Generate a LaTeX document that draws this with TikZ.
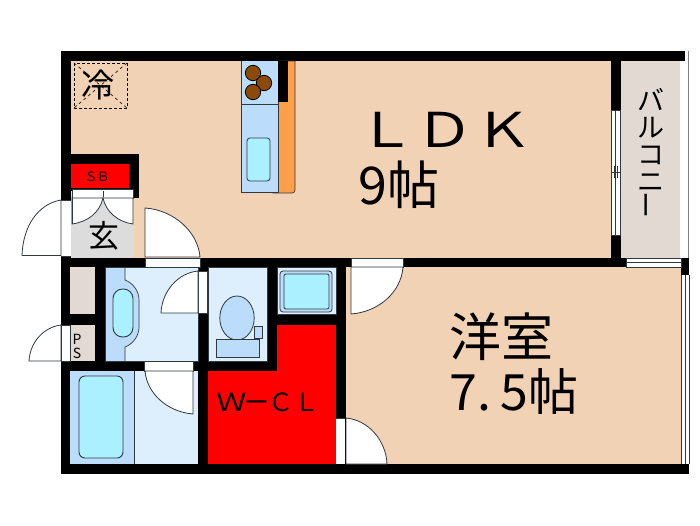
\documentclass[tikz,border=0pt]{standalone}
\usepackage{fontspec}
\usepackage{graphicx}
\newfontfamily\cjk{Noto Sans CJK JP}
\definecolor{peach}{HTML}{F2D2B4}
\definecolor{balc}{HTML}{E2D9D2}
\definecolor{lblue}{HTML}{DDEEFD}
\definecolor{mblue}{HTML}{BBDDFB}
\definecolor{cyanb}{HTML}{AAF0FF}
\definecolor{orangeb}{HTML}{FF9F4A}
\definecolor{brownb}{HTML}{8B4A0A}
\definecolor{genk}{HTML}{DCDCDC}
\definecolor{linec}{HTML}{303840}
\tikzset{
  wall/.style={fill=black,draw=none},
  room/.style={draw=none},
  fix/.style={draw=linec,line width=0.7pt},
  door/.style={fill=white,draw=linec,line width=0.8pt},
  gap/.style={fill=white,draw=none},
  winline/.style={draw=linec,line width=0.6pt},
  lab/.style={inner sep=0pt},
}
\newcommand{\fsz}[2]{\cjk\fontsize{#1}{#2}\selectfont}
\newcommand{\widechar}[1]{\scalebox{1.22}[1]{#1}}
\begin{document}
\begin{tikzpicture}[x=1pt,y=-1pt]
\useasboundingbox (0,0) rectangle (700,525);
\fill[white] (0,0) rectangle (700,525);
% rooms
\fill[peach] (71,61) rectangle (611,258);
\fill[peach] (346,267) rectangle (681,464);
\fill[balc] (621,61) rectangle (680,258);
\fill[genk] (71,198) rectangle (134,258);
\fill[balc] (70,267) rectangle (95,361);
\fill[lblue] (105,267) rectangle (198,361);
\fill[lblue] (208,267) rectangle (267,361);
\fill[lblue] (277,267) rectangle (336,314);
\fill[lblue] (70,371) rectangle (198,464);
\fill[red] (277,325) -- (336,325) -- (336,464) -- (208,464) -- (208,371) -- (277,371) -- cycle;
% walls
\fill[wall] (61,51) rectangle (685,61);
\fill[wall] (61,51) rectangle (71,267);
\fill[wall] (61,258) rectangle (627,267);
\fill[wall] (611,61) rectangle (621,258);
\fill[wall] (61,258) rectangle (70,474);
\fill[wall] (61,464) rectangle (689,474);
\fill[wall] (95,267) rectangle (105,371);
\fill[wall] (61,314) rectangle (105,325);
\fill[wall] (61,361) rectangle (208,371);
\fill[wall] (198,267) rectangle (208,474);
\fill[wall] (267,267) rectangle (277,371);
\fill[wall] (198,361) rectangle (277,371);
\fill[wall] (267,314) rectangle (346,325);
\fill[wall] (336,258) rectangle (346,474);
\fill[wall] (681,258) rectangle (689,275);
\fill[wall] (71,154) rectangle (139,164);
\fill[wall] (129,154) rectangle (139,198);
\fill[wall] (71,188) rectangle (135,191);
% SB
\fill[red] (71,164) rectangle (129,188);
\fill[white] (72,189) rectangle (133,198);
\draw[fix] (72,189) rectangle (133,198);
\draw[fix] (103,191) -- (103,197);
% genkan double door
\fill[door] (72,198) -- (133,198) -- (133,224) .. controls (118,222) and (106,212) .. (103,198) .. controls (100,212) and (88,222) .. (72,224) -- cycle;
\draw[fix] (72,198) -- (72,224);
% outer right
\fill[white] (680,61) rectangle (688,258);
\draw[draw=gray,line width=1.2pt] (688.5,51) -- (688.5,258);
% kitchen
\fill[orangeb,draw=linec,line width=0.7pt] (278,61) -- (295,61) -- (295,190) arc (0:90:3) -- (274,193) -- (278,191) -- cycle;
\fill[mblue] (241.5,61) rectangle (278,192);
\draw[fix] (241.5,61) -- (241.5,192) -- (278,192) -- (278,61);
\draw[fix] (241.5,104) -- (278,104);
\fill[wall] (278,61) rectangle (288,102);
\fill[cyanb,draw=linec,line width=0.8pt,rounded corners=3pt] (247,138) rectangle (270,181);
\foreach \cx/\cy in {253/73,264/83,253/92}
  \fill[brownb,draw=black,line width=0.8pt] (\cx,\cy) circle (7.7);
% fridge
\draw[black,line width=0.9pt,dash pattern=on 3pt off 2pt] (74,63) rectangle (127,108);
\draw[black,line width=0.6pt,dash pattern=on 3pt off 3pt] (74,63) -- (127,108) (127,63) -- (74,108);
% bath
\fill[mblue] (70,371) rectangle (134,464);
\draw[fix] (134,371) -- (134,464);
\fill[cyanb,draw=linec,line width=0.9pt,rounded corners=6pt] (79,376) rectangle (123,458);
% wash room
\fill[mblue] (105,267) -- (125,267) -- (125,280) .. controls (133,283) and (139,291) .. (139,300) -- (139,327) .. controls (139,336) and (133,344) .. (125,347) -- (125,361) -- (105,361) -- cycle;
\draw[fix] (125,267) -- (125,280) .. controls (133,283) and (139,291) .. (139,300) -- (139,327) .. controls (139,336) and (133,344) .. (125,347) -- (125,361);
\fill[cyanb,draw=linec,line width=0.9pt,rounded corners=9.5pt] (113,289) rectangle (133,337);
\draw[fix] (105,361) -- (198,361);
\draw[fix] (105,267) rectangle (198,361);
% toilet
\fill[mblue,draw=linec,line width=0.8pt] (237,318) ellipse (17.2 and 22);
\fill[mblue,draw=linec,line width=0.7pt] (254,326) rectangle (262,338);
\fill[mblue,draw=linec,line width=0.9pt] (216,339) rectangle (259,357);
\draw[fix] (208,267) rectangle (267,361);
% washing pan
\draw[fix] (277,267) rectangle (336,314);
\fill[mblue,draw=linec,line width=0.8pt,rounded corners=3pt] (280,271) rectangle (332,312);
\fill[cyanb,draw=linec,line width=0.8pt,rounded corners=2pt] (284,274) rectangle (329,309);
% doors
\fill[gap] (61,200) rectangle (71,256);
\draw[winline] (61,200) -- (71,200) (61,256) -- (71,256);
\fill[door] (61,200) .. controls (38,204) and (23,226) .. (22,255.5) -- (61,255.5) -- cycle;
\fill[door] (145,208) .. controls (174,210) and (198,232) .. (200,257) -- (145,257) -- cycle;
\fill[gap] (145,258) rectangle (200,267);
\draw[winline] (145,258) rectangle (200,267);
\fill[gap] (198,271) rectangle (207,313);
\draw[winline] (198,271) rectangle (207,313);
\fill[door] (198,271) .. controls (178,273) and (162,291) .. (161,313) -- (198,313) -- cycle;
\fill[gap] (61,325) rectangle (70,361);
\fill[door] (61,325) .. controls (44,327) and (30,342) .. (29,361) -- (61,361) -- cycle;
\draw[winline] (61,325) rectangle (70,361);
\fill[gap] (144,361) rectangle (193,371);
\draw[winline] (144,361) rectangle (193,371);
\fill[door] (193,371) -- (193,414) .. controls (168,412) and (147,394) .. (145,371) -- cycle;
\fill[gap] (351,258) rectangle (403,267);
\draw[winline] (351,258) rectangle (403,267);
\fill[door] (351,267) -- (403,267) .. controls (401,293) and (378,312) .. (351,314) -- cycle;
\fill[gap] (336,418) rectangle (345,464);
\draw[winline] (336,418) -- (345,418);
\fill[door] (346,418) .. controls (368,420) and (386,440) .. (387,464) -- (346,464) -- cycle;
% windows
\fill[gap] (611.5,110) rectangle (620.5,235);
\draw[winline] (611.5,110) rectangle (620.5,235);
\draw[winline] (615.5,110) -- (615.5,235);
\draw[winline] (612,172) -- (620,172) (614,166) -- (614,178) (617,166) -- (617,178);
\fill[gap] (626,258) rectangle (681,267);
\draw[winline] (626,258) rectangle (681,267);
\draw[winline] (626,262.5) -- (681,262.5);
\fill[gap] (681,275) rectangle (689,464);
\draw[winline] (681,275) -- (681,464) (685,275) -- (685,464) (689,275) -- (689,464);
% labels
\node[lab,font=\fsz{48}{48}] (ldk) at (445,130) {\widechar{Ｌ}\widechar{Ｄ}\widechar{Ｋ}};
\node[lab,font=\fsz{52}{52}] (nine) at (399,185) {9帖};
\node[lab,font=\fsz{52}{52}] (yoshitsu) at (501,337) {洋室};
\node[lab,font=\fsz{50}{50}] (seven) at (514,392) {7.\kern10pt 5帖};
\node[lab,font=\fsz{33}{33}] (rei) at (98,85) {冷};
\node[lab,font=\fsz{31}{31}] (gen) at (104,236) {玄};
\node[lab,font=\fsz{13}{13}] (sb) at (97,177) {Ｓ\kern-1pt Ｂ};
\node[lab,align=center,font=\fsz{14}{14}] (ps) at (77,346) {P\\S};
\node[lab,font=\fsz{25}{25}] (wcl) at (268,402) {\widechar{Ｗ}\kern-3pt ー\kern-1pt Ｃ\kern1pt Ｌ};
\node[lab,align=center,font=\fsz{27}{27}] (balcony) at (651,153) {バ\\ル\\コ\\ニ\\\rotatebox{90}{ー}};
\end{tikzpicture}
\end{document}
